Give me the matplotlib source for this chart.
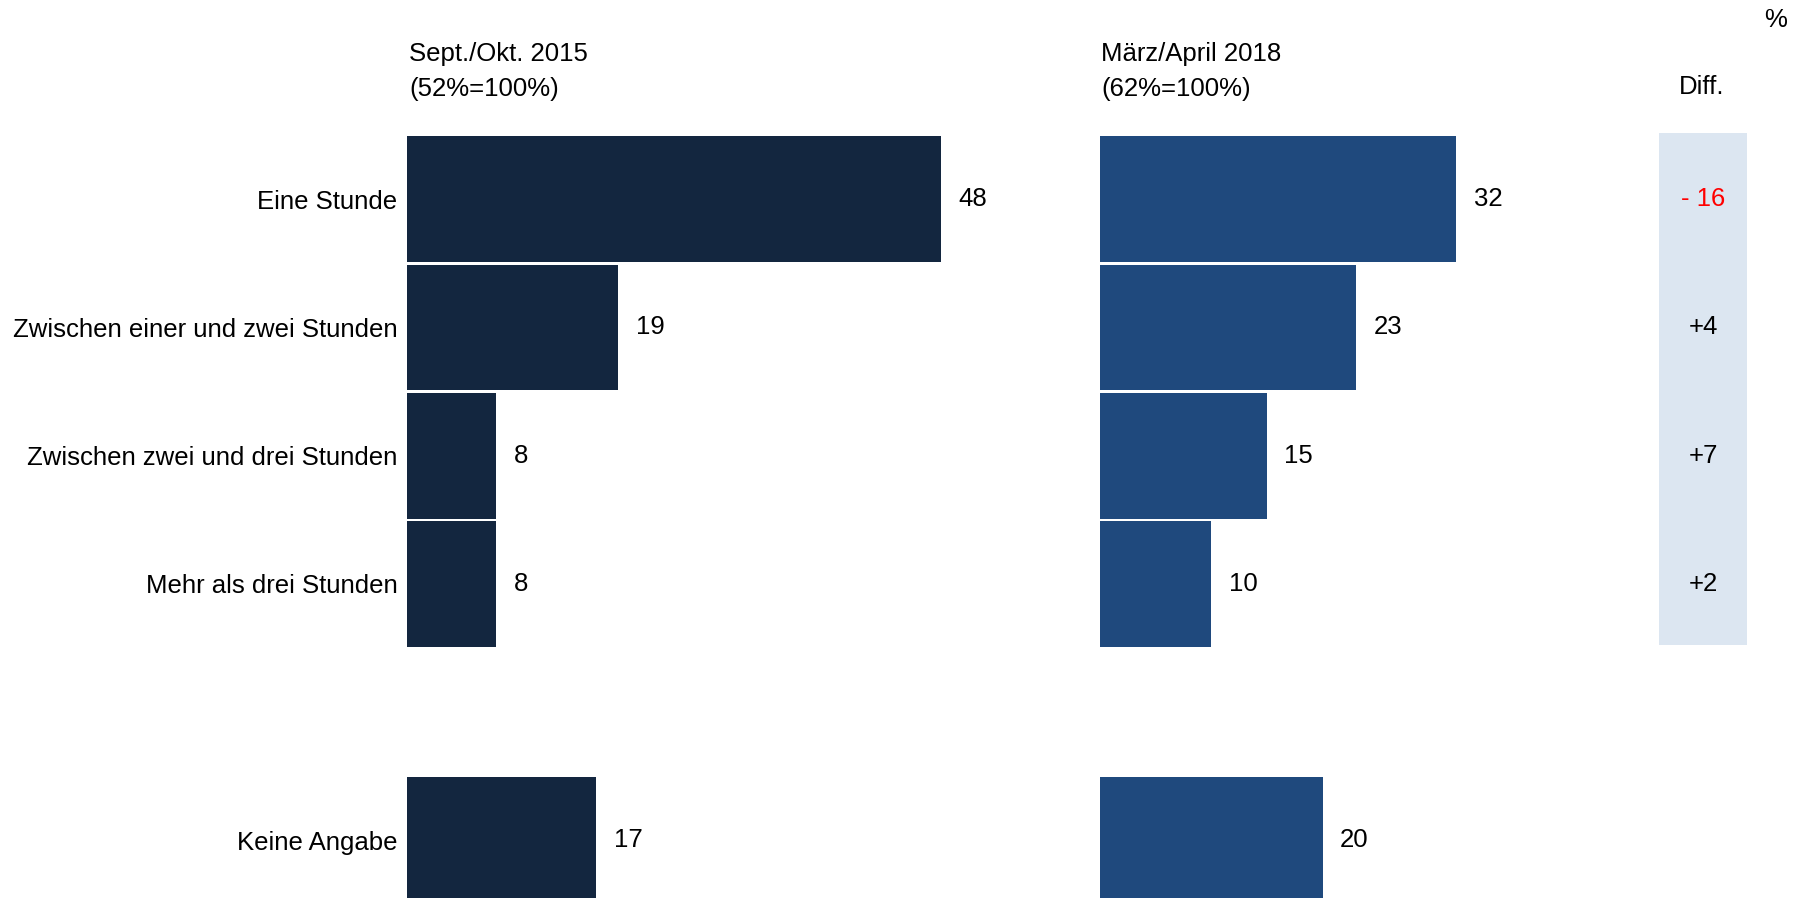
import matplotlib
matplotlib.use("Agg")
import matplotlib.pyplot as plt

plt.rcParams['font.family'] = ['Liberation Sans', 'DejaVu Sans']

categories = ['Eine Stunde', 'Zwischen einer und zwei Stunden',
              'Zwischen zwei und drei Stunden', 'Mehr als drei Stunden',
              'Keine Angabe']
positions = [0, 1, 2, 3, 5]
values_2015 = [48, 19, 8, 8, 17]
values_2018 = [32, 23, 15, 10, 20]
title_2015 = ['Sept./Okt. 2015', '(52%=100%)']
title_2018 = ['März/April 2018', '(62%=100%)']

W, H = 1806, 898
fig = plt.figure(figsize=(W / 100, H / 100), dpi=100)

PX_PER_UNIT = 11.13
ROW0, PITCH = 199.3, 128.2
ylim = ((H - ROW0) / PITCH, -ROW0 / PITCH)
FS = 18.5


def px_axes(x0, width):
    ax = fig.add_axes([x0 / W, 0, width / W, 1])
    ax.set_ylim(*ylim)
    for s in ax.spines.values():
        s.set_visible(False)
    ax.set_xticks([])
    ax.tick_params(axis='y', length=0)
    return ax


def draw_panel(ax, vals, color):
    ax.set_xlim(0, 600 / PX_PER_UNIT)
    ax.barh(positions, vals, height=0.982, color=color, linewidth=0)
    for p, v in zip(positions, vals):
        ax.annotate(str(v), (v, p), xytext=(12.5, 0), textcoords='offset points',
                    ha='left', va='center', fontsize=FS)


ax1 = px_axes(407, 600)
draw_panel(ax1, values_2015, '#13263f')
ax1.set_yticks(positions)
ax1.set_yticklabels(categories, fontsize=FS)
ax1.tick_params(axis='y', pad=7)

ax2 = px_axes(1100, 600)
draw_panel(ax2, values_2018, '#1f497d')
ax2.set_yticks([])

# difference column
ax3 = px_axes(1659, 88)
ax3.set_xlim(-0.5, 0.5)
ax3.set_yticks([])
ax3.bar(0, 3.477 + 0.517, bottom=-0.517, width=1, color='#dce6f1', linewidth=0)
for p, a, b in zip(positions[:4], values_2015[:4], values_2018[:4]):
    d = b - a
    label = f'- {abs(d)}' if d < 0 else f'+{d}'
    ax3.text(0, p, label, ha='center', va='center', fontsize=FS,
             color='#ff0000' if d < 0 else 'black')
ax3.patch.set_alpha(0)
ax2.patch.set_alpha(0)

def fig_text(x, y, s, **kw):
    fig.text(x / W, 1 - y / H, s, fontsize=FS, va='center', **kw)

fig_text(409, 54, title_2015[0])
fig_text(409, 89, title_2015[1])
fig_text(1101, 54, title_2018[0])
fig_text(1101, 89, title_2018[1])
fig_text(1702, 87, 'Diff.', ha='center')
fig_text(1776, 20, '%', ha='center')

fig.savefig('out.png', dpi=100)
